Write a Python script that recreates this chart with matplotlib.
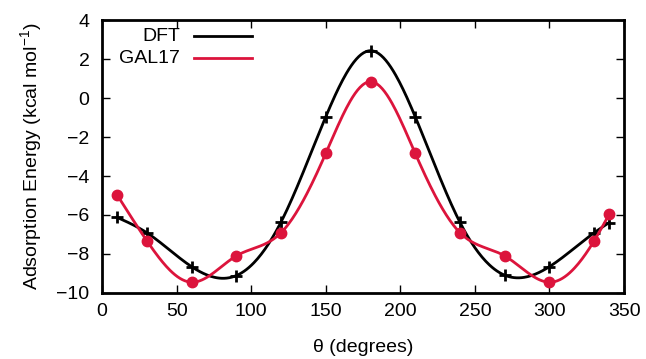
import matplotlib
matplotlib.use('Agg')
import matplotlib.pyplot as plt
import numpy as np

# ------------------------- # Datos # ------------------------ #
theta = [10, 30, 60, 90, 120, 150, 180, 210, 240, 270, 300, 330, 340]
dft = [-6.12, -6.91, -8.65, -9.11, -6.36, -0.96, 2.43, -0.96, -6.38, -9.09,
       -8.65, -6.91, -6.39]
gal17 = [-4.96, -7.32, -9.45, -8.10, -6.91, -2.84, 0.84, -2.84, -6.91, -8.10,
         -9.45, -7.32, -5.97]

xticks = [0, 50, 100, 150, 200, 250, 300, 350]
yticks = [-10, -8, -6, -4, -2, 0, 2, 4]

rojo = '#dc143c'
fs = 14

plt.rcParams['font.family'] = ['Liberation Sans', 'DejaVu Sans']
plt.rcParams['mathtext.fontset'] = 'custom'
plt.rcParams['mathtext.rm'] = 'Liberation Sans'
plt.rcParams['mathtext.it'] = 'Liberation Sans:italic'


# Spline cubico natural (como "smooth csplines" de gnuplot)
def spline_natural(x, y, n=400):
    x = np.asarray(x, float)
    y = np.asarray(y, float)
    m = len(x)
    h = np.diff(x)
    A = np.zeros((m, m))
    b = np.zeros(m)
    A[0, 0] = A[-1, -1] = 1.0
    for i in range(1, m - 1):
        A[i, i - 1] = h[i - 1]
        A[i, i] = 2 * (h[i - 1] + h[i])
        A[i, i + 1] = h[i]
        b[i] = 6 * ((y[i + 1] - y[i]) / h[i] - (y[i] - y[i - 1]) / h[i - 1])
    M = np.linalg.solve(A, b)
    xs = np.linspace(x[0], x[-1], n)
    idx = np.clip(np.searchsorted(x, xs) - 1, 0, m - 2)
    x0, x1 = x[idx], x[idx + 1]
    hh = x1 - x0
    t0, t1 = x1 - xs, xs - x0
    ys = (M[idx] * t0**3 + M[idx + 1] * t1**3) / (6 * hh) \
        + (y[idx] / hh - M[idx] * hh / 6) * t0 \
        + (y[idx + 1] / hh - M[idx + 1] * hh / 6) * t1
    return xs, ys


fig = plt.figure(figsize=(6.46, 3.59), dpi=100)
ax = fig.add_axes([0.158, 0.184, 0.808, 0.760])

xs, ys = spline_natural(theta, dft)
ax.plot(xs, ys, color='black', lw=2)
ax.plot(theta, dft, ls='none', marker='+', ms=8, mew=2, color='black')

xs, ys = spline_natural(theta, gal17)
ax.plot(xs, ys, color=rojo, lw=2)
ax.plot(theta, gal17, ls='none', marker='o', ms=7.5, color=rojo)

ax.set_xlim(0, 350)
ax.set_ylim(-10, 4)
ax.set_xticks(xticks)
ax.set_yticks(yticks)
ax.tick_params(direction='in', length=6, width=1, top=True, right=True,
               labelsize=fs)
ax.tick_params(axis='x', pad=7)
ax.tick_params(axis='y', pad=9)
for sp in ax.spines.values():
    sp.set_linewidth(2)

ax.set_xlabel('θ (degrees)', fontsize=fs, labelpad=14)
ax.set_ylabel('Adsorption Energy (kcal mol$^{-1}$)', fontsize=fs,
              labelpad=9)

# Leyenda al estilo gnuplot (texto a la derecha, linea despues)
ax.text(0.149, 0.941, 'DFT', transform=ax.transAxes, ha='right',
        va='center', fontsize=fs)
ax.text(0.149, 0.861, 'GAL17', transform=ax.transAxes, ha='right',
        va='center', fontsize=fs)
ax.plot([0.176, 0.287], [0.941, 0.941], color='black', lw=2,
        transform=ax.transAxes)
ax.plot([0.176, 0.287], [0.861, 0.861], color=rojo, lw=2,
        transform=ax.transAxes)

fig.savefig('out.png', dpi=100)
